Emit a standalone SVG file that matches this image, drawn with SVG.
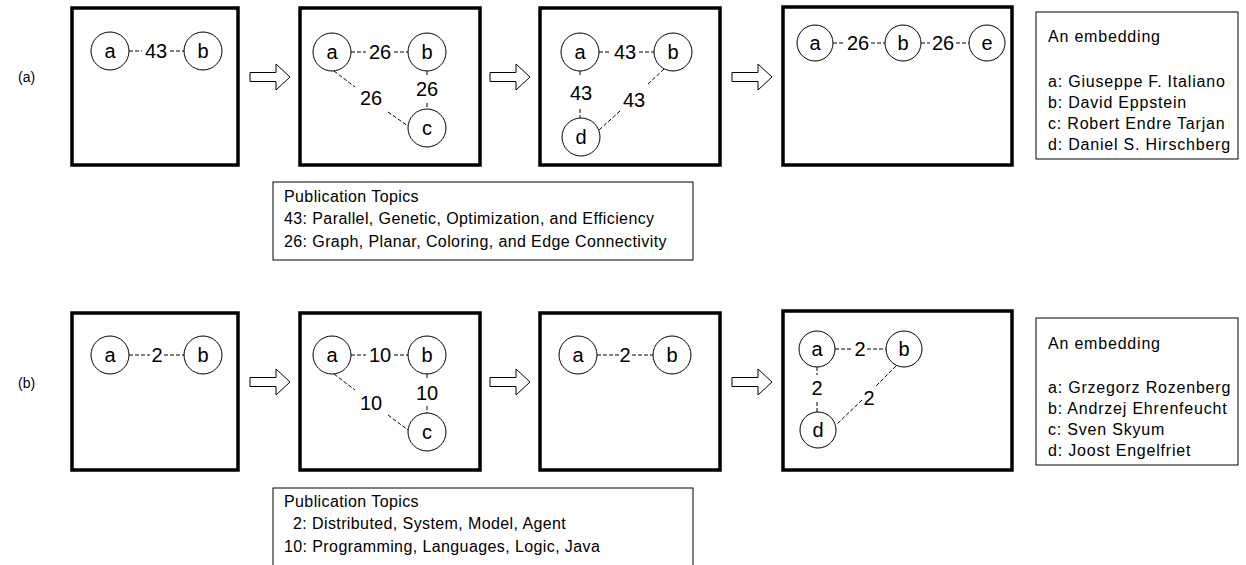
<svg xmlns="http://www.w3.org/2000/svg" width="1246" height="565" viewBox="0 0 1246 565">
<style>
.frame{fill:#fff;stroke:#000;stroke-width:3.5}
.box{fill:#fff;stroke:#000;stroke-width:1}
.node{fill:#fff;stroke:#000;stroke-width:1}
.nl{font-family:"Liberation Sans",Arial,sans-serif;font-size:20px;text-anchor:middle;fill:#000}
.el{font-family:"Liberation Sans",Arial,sans-serif;font-size:20px;text-anchor:middle;fill:#000}
.tx{font-family:"Liberation Sans",Arial,sans-serif;font-size:16px;letter-spacing:0.4px;fill:#000}
.ex{font-family:"Liberation Sans",Arial,sans-serif;font-size:16px;letter-spacing:0.8px;fill:#000}
.lab{font-family:"Liberation Sans",Arial,sans-serif;font-size:14px;fill:#000}
.e{stroke:#000;stroke-width:1;stroke-dasharray:4,2;fill:none}
.arr{fill:#fff;stroke:#000;stroke-width:1}
</style>
<defs>
<path id="arrow" class="arr" d="M-40,-4.5 L-14,-4.5 L-14,-13 L0,0 L-14,13 L-14,4.5 L-40,4.5 Z"/>
</defs>
<rect width="1246" height="565" fill="#fff"/>

<text class="lab" x="18" y="82">(a)</text>
<text class="lab" x="18" y="388">(b)</text>

<g id="frames">
<rect class="frame" x="72" y="8" width="166" height="157"/>
<rect class="frame" x="300" y="8" width="180" height="157"/>
<rect class="frame" x="540" y="8" width="180" height="157"/>
<rect class="frame" x="783" y="7" width="229" height="158"/>
<rect class="frame" x="72" y="313" width="166" height="157"/>
<rect class="frame" x="300" y="313" width="180" height="157"/>
<rect class="frame" x="540" y="313" width="180" height="157"/>
<rect class="frame" x="783" y="311" width="229" height="159"/>
</g>

<g id="arrows">
<use href="#arrow" x="290" y="77"/>
<use href="#arrow" x="530" y="77"/>
<use href="#arrow" x="772" y="77"/>
<use href="#arrow" x="290" y="382"/>
<use href="#arrow" x="530" y="382"/>
<use href="#arrow" x="772" y="382"/>
</g>

<g id="connectors">
<path class="e" d="M129,51 H142 M170,51 H184"/>
<text class="el" x="156" y="58">43</text>
<path class="e" d="M351,52 H366 M394,52 H408"/>
<text class="el" x="380" y="59">26</text>
<path class="e" d="M427,71 V76 M427,103 V109"/>
<text class="el" x="427" y="96">26</text>
<path class="e" d="M334,71 L355,87 M388,112 L408,126"/>
<text class="el" x="371" y="105">26</text>
<path class="e" d="M599,52 H611 M639,52 H654"/>
<text class="el" x="625" y="59">43</text>
<path class="e" d="M580,71 V77 M580,109 V118"/>
<text class="el" x="581" y="100">43</text>
<path class="e" d="M664,69 L647,85 M620,111 L599,130"/>
<text class="el" x="634" y="107">43</text>
<path class="e" d="M833,43 H845 M871,43 H885"/>
<text class="el" x="858" y="50">26</text>
<path class="e" d="M921,43 H930 M956,43 H969"/>
<text class="el" x="943" y="50">26</text>
<path class="e" d="M129,355 H150 M164,355 H184"/>
<text class="el" x="157" y="362">2</text>
<path class="e" d="M351,355 H366 M394,355 H408"/>
<text class="el" x="380" y="362">10</text>
<path class="e" d="M427,374 V380 M427,406 V413"/>
<text class="el" x="427" y="400">10</text>
<path class="e" d="M334,374 L355,390 M388,415 L408,430"/>
<text class="el" x="371" y="410">10</text>
<path class="e" d="M597,355 H619 M632,355 H653"/>
<text class="el" x="625" y="362">2</text>
<path class="e" d="M835,349 H853 M867,349 H886"/>
<text class="el" x="860" y="356">2</text>
<path class="e" d="M817,367 V375 M817,402 V412"/>
<text class="el" x="817" y="395">2</text>
<path class="e" d="M896,366 L876,386 M862,400 L836,425"/>
<text class="el" x="869" y="405">2</text>
</g>

<g id="nodes">
<g id="A1a"><circle class="node" cx="110" cy="51" r="19"/><text class="nl" x="110" y="58">a</text></g>
<g id="A1b"><circle class="node" cx="203" cy="51" r="19"/><text class="nl" x="203" y="58">b</text></g>
<g id="A2a"><circle class="node" cx="332" cy="52" r="19"/><text class="nl" x="332" y="59">a</text></g>
<g id="A2b"><circle class="node" cx="427" cy="52" r="19"/><text class="nl" x="427" y="59">b</text></g>
<g id="A2c"><circle class="node" cx="427" cy="128" r="19"/><text class="nl" x="427" y="135">c</text></g>
<g id="A3a"><circle class="node" cx="580" cy="52" r="19"/><text class="nl" x="580" y="59">a</text></g>
<g id="A3b"><circle class="node" cx="673" cy="52" r="19"/><text class="nl" x="673" y="59">b</text></g>
<g id="A3d"><circle class="node" cx="581" cy="137" r="19"/><text class="nl" x="581" y="144">d</text></g>
<g id="A4a"><circle class="node" cx="815" cy="43" r="18"/><text class="nl" x="815" y="50">a</text></g>
<g id="A4b"><circle class="node" cx="903" cy="43" r="18"/><text class="nl" x="903" y="50">b</text></g>
<g id="A4e"><circle class="node" cx="987" cy="43" r="18"/><text class="nl" x="987" y="50">e</text></g>
<g id="B1a"><circle class="node" cx="110" cy="355" r="19"/><text class="nl" x="110" y="362">a</text></g>
<g id="B1b"><circle class="node" cx="203" cy="355" r="19"/><text class="nl" x="203" y="362">b</text></g>
<g id="B2a"><circle class="node" cx="332" cy="355" r="19"/><text class="nl" x="332" y="362">a</text></g>
<g id="B2b"><circle class="node" cx="427" cy="355" r="19"/><text class="nl" x="427" y="362">b</text></g>
<g id="B2c"><circle class="node" cx="427" cy="432" r="19"/><text class="nl" x="427" y="439">c</text></g>
<g id="B3a"><circle class="node" cx="578" cy="355" r="19"/><text class="nl" x="578" y="362">a</text></g>
<g id="B3b"><circle class="node" cx="672" cy="355" r="19"/><text class="nl" x="672" y="362">b</text></g>
<g id="B4a"><circle class="node" cx="817" cy="349" r="18"/><text class="nl" x="817" y="356">a</text></g>
<g id="B4b"><circle class="node" cx="904" cy="349" r="18"/><text class="nl" x="904" y="356">b</text></g>
<g id="B4d"><circle class="node" cx="818" cy="430" r="18"/><text class="nl" x="818" y="437">d</text></g>
</g>

<g id="embeddingA">
<rect class="box" x="1036" y="12" width="202" height="147"/>
<text class="ex" x="1048" y="42">An embedding</text>
<text class="ex" x="1048" y="87">a: Giuseppe F. Italiano</text>
<text class="ex" x="1048" y="108">b: David Eppstein</text>
<text class="ex" x="1048" y="129">c: Robert Endre Tarjan</text>
<text class="ex" x="1048" y="150">d: Daniel S. Hirschberg</text>
</g>
<g id="embeddingB">
<rect class="box" x="1036" y="318" width="202" height="147"/>
<text class="ex" x="1048" y="349">An embedding</text>
<text class="ex" x="1048" y="393">a: Grzegorz Rozenberg</text>
<text class="ex" x="1048" y="414">b: Andrzej Ehrenfeucht</text>
<text class="ex" x="1048" y="435">c: Sven Skyum</text>
<text class="ex" x="1048" y="456">d: Joost Engelfriet</text>
</g>
<g id="topicsA">
<rect class="box" x="273" y="182" width="420" height="78"/>
<text class="tx" x="284" y="202">Publication Topics</text>
<text class="tx" x="284" y="224">43: Parallel, Genetic, Optimization, and Efficiency</text>
<text class="tx" x="284" y="247">26: Graph, Planar, Coloring, and Edge Connectivity</text>
</g>
<g id="topicsB">
<rect class="box" x="273" y="488" width="420" height="82"/>
<text class="tx" x="284" y="507">Publication Topics</text>
<text class="tx" x="293" y="529">2: Distributed, System, Model, Agent</text>
<text class="tx" x="284" y="552">10: Programming, Languages, Logic, Java</text>
</g>
</svg>
